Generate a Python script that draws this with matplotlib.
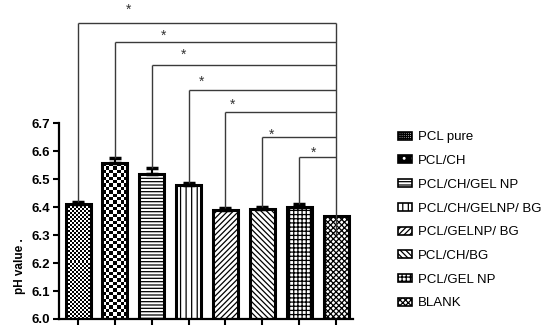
import matplotlib
matplotlib.use('Agg')
import matplotlib.pyplot as plt
from matplotlib.patches import Patch
import numpy as np

plt.rcParams['font.family'] = ['Liberation Sans', 'DejaVu Sans']
plt.rcParams['hatch.linewidth'] = 0.9

# data
groups = ['PCL pure', 'PCL/CH', 'PCL/CH/GEL NP', 'PCL/CH/GELNP/ BG',
          'PCL/GELNP/ BG', 'PCL/CH/BG', 'PCL/GEL NP', 'BLANK']
ph = [6.41, 6.557, 6.519, 6.479, 6.39, 6.394, 6.40, 6.37]
err = [0.008, 0.02, 0.02, 0.006, 0.008, 0.006, 0.01, 0.0]

# significance brackets (each group vs BLANK)
bracket_y = [7.059, 6.992, 6.908, 6.818, 6.741, 6.652, 6.578]
star_x = [1.38, 2.31, 2.85, 3.34, 4.2, 5.24, 6.38]
star_y = [7.105, 7.012, 6.944, 6.848, 6.765, 6.66, 6.594]

# fill styles: None -> checkerboard texture (cell size in px)
hatches = [None, None, '-----', '|||', '//////', '\\\\\\\\\\\\', '++++', 'xxxxxx']
checker_px = {0: 2.0, 1: 3.4}

fig = plt.figure(figsize=(5.59, 3.26), dpi=100)
ax = fig.add_axes([58.5 / 559, 7 / 326, (353 - 58.5) / 559, 319 / 326])
ax.set_xlim(-0.53, 7.46)
ax.set_ylim(6.0, 6.0 + 319 / 279.6)

x = np.arange(len(groups))
bars = ax.bar(x, np.array(ph) - 6.0, bottom=6.0, width=0.68,
              color='white', edgecolor='none', zorder=2)
for i, b in enumerate(bars):
    if hatches[i]:
        b.set_hatch(hatches[i])
        b.set_edgecolor('black')
        b.set_linewidth(0)

# checkerboard textures
for i, cell in checker_px.items():
    b = bars[i]
    x0, y0, w, h = b.get_x(), b.get_y(), b.get_width(), b.get_height()
    p0 = ax.transData.transform((x0, y0))
    p1 = ax.transData.transform((x0 + w, y0 + h))
    nx = max(1, int(round((p1[0] - p0[0]) / cell)))
    ny = max(1, int(round((p1[1] - p0[1]) / cell)))
    board = np.indices((ny, nx)).sum(axis=0) % 2
    ax.imshow(board, cmap='gray', extent=(x0, x0 + w, y0, y0 + h),
              interpolation='nearest', aspect='auto', zorder=2.5)

# bar outlines
ax.bar(x, np.array(ph) - 6.0, bottom=6.0, width=0.68, fill=False,
       edgecolor='black', linewidth=2.2, zorder=3)
ax.set_xlim(-0.53, 7.46)
ax.set_ylim(6.0, 6.0 + 319 / 279.6)

# error bars (upper only)
n = len(groups) - 1
ax.errorbar(x[:n], ph[:n], yerr=[np.zeros(n), err[:n]], fmt='none',
            ecolor='black', elinewidth=1.5, capsize=4, capthick=2.5, zorder=4)

# brackets
line_c = '#3a3a3a'
ax.vlines(x[-1], 6.30, bracket_y[0], color=line_c, lw=1, zorder=5)
for i, by in enumerate(bracket_y):
    ax.vlines(x[i], ph[i] + err[i], by, color=line_c, lw=1, zorder=5)
    ax.hlines(by, x[i], x[-1], color=line_c, lw=1, zorder=5)
    ax.text(star_x[i], star_y[i], '*', ha='center', va='center',
            fontsize=10, color='#333333')

# axes styling
for s in ['top', 'right']:
    ax.spines[s].set_visible(False)
ax.spines['left'].set_bounds(6.0, 6.7)
ax.spines['left'].set_linewidth(1.6)
ax.spines['bottom'].set_linewidth(1.6)
ax.set_yticks(np.arange(6.0, 6.71, 0.1))
ax.set_yticklabels([f'{v:.1f}' for v in np.arange(6.0, 6.71, 0.1)],
                   fontsize=9.5, fontweight='bold')
ax.set_xticks(x)
ax.set_xticklabels([''] * len(groups))
ax.tick_params(axis='both', length=4, width=1.5, direction='out', pad=2)

fig.text(20 / 559, 1 - 266 / 326, 'pH value .', rotation=90, ha='center',
         va='center', fontsize=8.5, fontweight='bold')

# legend
handles = []
for i in range(len(groups)):
    if i == 0:
        h = Patch(facecolor='white', edgecolor='black', hatch='++++++++', lw=1.2)
    elif i == 1:
        h = (Patch(facecolor='black', edgecolor='white', hatch='..', lw=0),
             Patch(fill=False, edgecolor='black', lw=1.2))
    else:
        h = Patch(facecolor='white', edgecolor='black', hatch=hatches[i], lw=1.2)
    handles.append(h)
fig.legend(handles, groups, loc='upper left',
           bbox_to_anchor=(393 / 559, 1 - 126 / 326), frameon=False,
           fontsize=9.5, handlelength=1.06, handleheight=0.55,
           handletextpad=0.4, labelspacing=0.89, borderaxespad=0)

fig.savefig('out.png', dpi=100, facecolor='white')
